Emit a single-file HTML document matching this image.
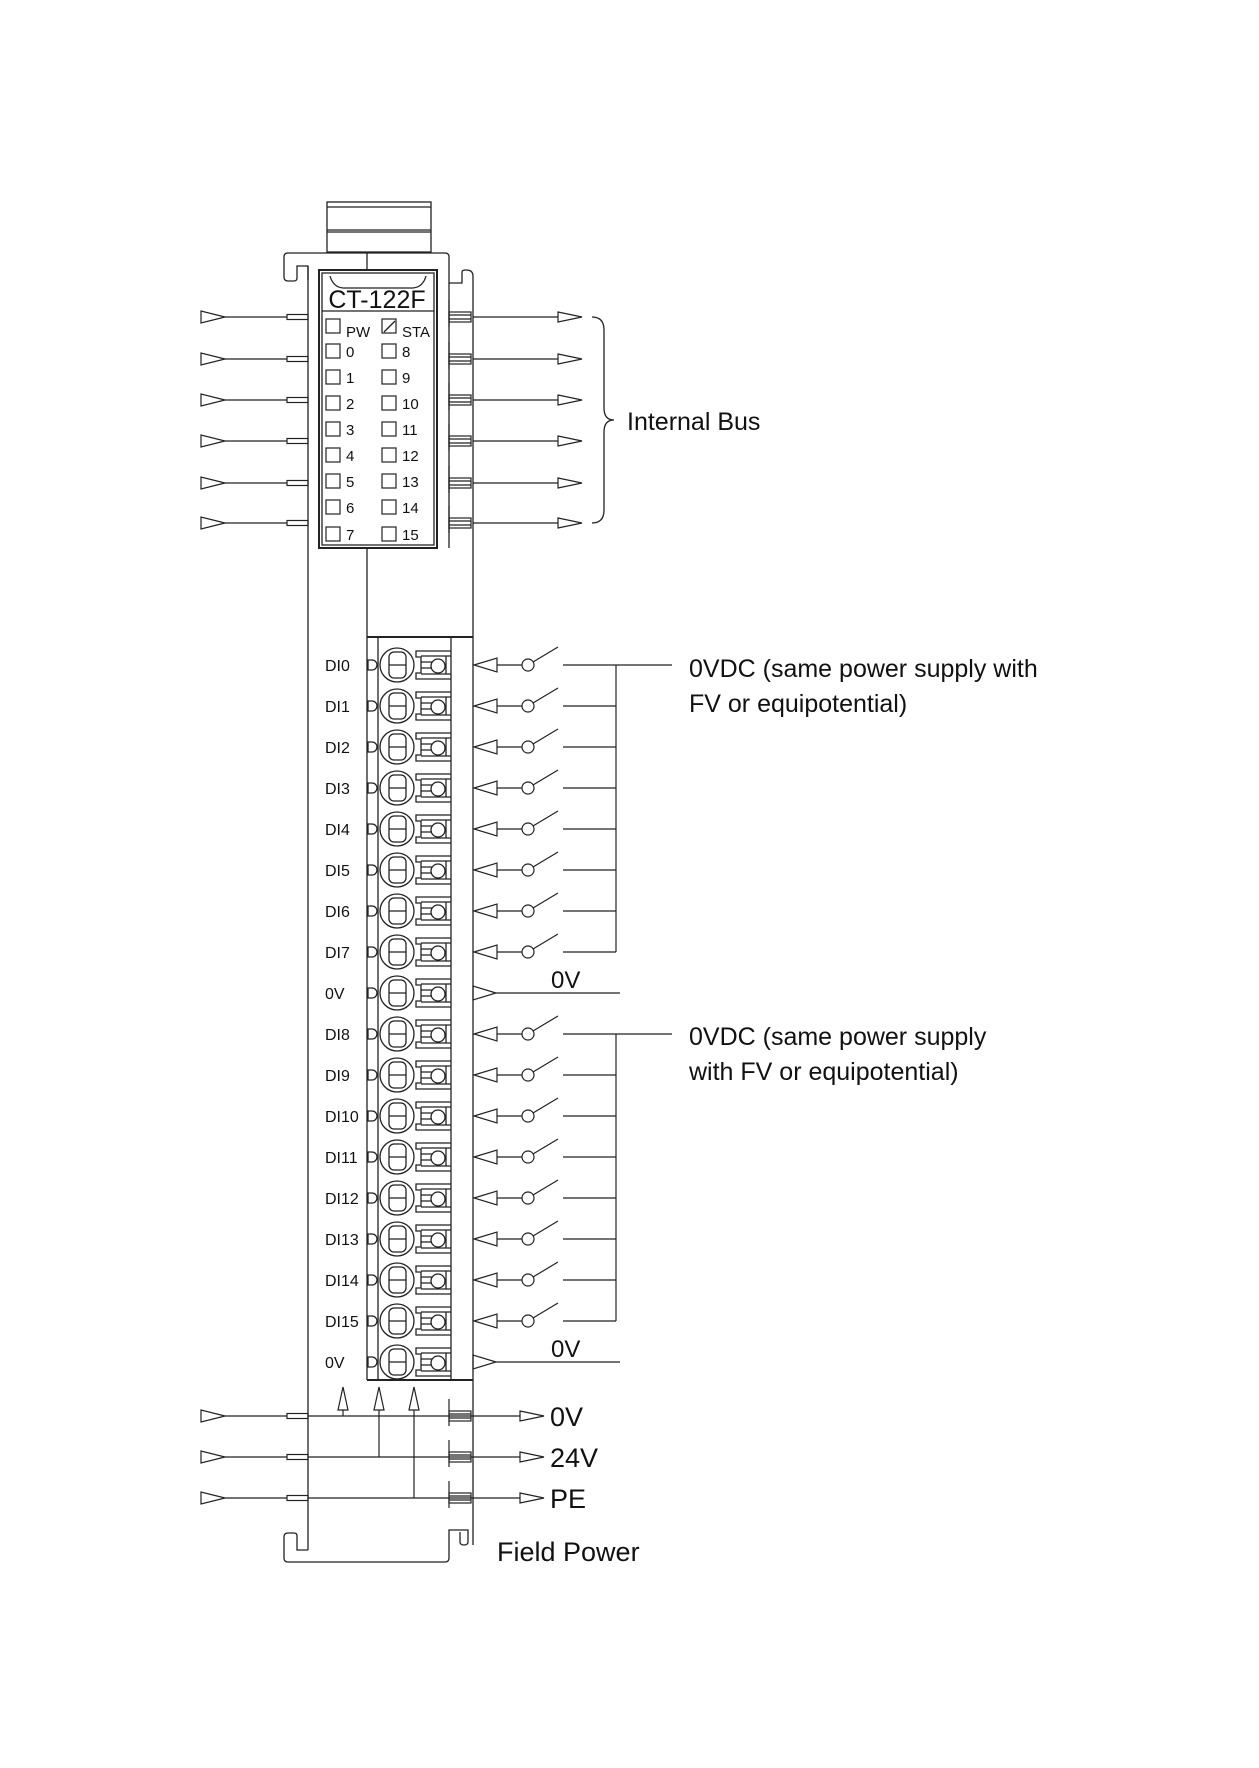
<!DOCTYPE html>
<html><head><meta charset="utf-8"><style>
html,body{margin:0;padding:0;background:#fff}
svg{display:block}
text{font-family:"Liberation Sans","DejaVu Sans",sans-serif;fill:#111}
</style></head><body>
<svg width="1259" height="1768" viewBox="0 0 1259 1768" xmlns="http://www.w3.org/2000/svg">
<defs>
<g id="term" fill="none" stroke="#222" stroke-width="1.3">
 <path d="M368,-5 H372 A5,5 0 0 1 372,5 H368 Z"/>
 <circle cx="397" cy="0" r="17"/>
 <rect x="389" y="-13" width="17" height="26" rx="5"/>
 <line x1="389" y1="0" x2="406" y2="0"/>
 <path d="M451,-14 H416 V-8 H421 V8 H416 V14 H451"/>
 <path d="M421,-9 H451 M421,9 H451 M421,-3 H432 M421,3 H432 M446,-9 V9"/>
 <circle cx="438" cy="1" r="7"/>
</g>
<g id="sw" fill="none" stroke="#222" stroke-width="1.2">
 <polygon points="474,0 497,-7 497,7"/>
 <line x1="497" y1="0" x2="522" y2="0"/>
 <circle cx="528" cy="0" r="6"/>
 <line x1="533" y1="-3" x2="558" y2="-18"/>
 <line x1="563" y1="0" x2="616" y2="0"/>
</g>
<g id="lin" fill="none" stroke="#222" stroke-width="1.2">
 <polygon points="225,0 201,-6 201,6"/>
 <line x1="225" y1="0" x2="287" y2="0"/>
 <rect x="287" y="-2.5" width="21" height="5"/>
</g>
<g id="rconn" fill="none" stroke="#222" stroke-width="1.2">
 <rect x="449" y="-5" width="22" height="10"/>
 <line x1="449" y1="-2" x2="471" y2="-2"/><line x1="449" y1="2" x2="471" y2="2"/>
 <line x1="449" y1="-17" x2="449" y2="10"/>
</g>
<g id="led" fill="none" stroke="#222" stroke-width="1.2">
 <rect x="0" y="0" width="14" height="14"/>
</g>
</defs>

<g fill="none" stroke="#222" stroke-width="1.3">
 <rect x="327" y="202" width="104" height="50"/>
 <line x1="327" y1="207" x2="431" y2="207"/>
 <line x1="327" y1="230" x2="431" y2="230"/>
 <line x1="327" y1="232" x2="431" y2="232"/>
 <path d="M308,280 V266 H297 V278 Q297,281 294,281 H288 Q284,281 284,277 V257 Q284,253 288,253 H445 Q449,253 449,257 V283 H462 V272 Q462,270 466,270 Q473,270 473,276 V1402"/>
 <line x1="308" y1="266" x2="308" y2="1550"/>
 <line x1="449" y1="283" x2="449" y2="548"/>
 <line x1="367" y1="253" x2="367" y2="270"/>
 <rect x="319" y="270" width="118" height="278" stroke-width="2"/>
 <rect x="322" y="273" width="112" height="272"/>
 <path d="M330,276 Q333,287 343,288 H413 Q423,287 426,276"/>
 <line x1="322" y1="311" x2="434" y2="311"/>
 <line x1="367" y1="548" x2="367" y2="1380"/>
 <line x1="367" y1="637" x2="473" y2="637" stroke-width="2"/>
 <line x1="367" y1="1380" x2="473" y2="1380" stroke-width="2"/>
 <line x1="378" y1="637" x2="378" y2="1380"/>
 <line x1="451" y1="637" x2="451" y2="1380"/>
 <path d="M308,1550 H297 V1536 Q297,1533 294,1533 H288 Q284,1533 284,1537 V1558 Q284,1562 288,1562 H445 Q449,1562 449,1558 V1530 H468 V1542 Q468,1545 464,1545 Q460,1545 460,1542 V1532"/>
 <line x1="473" y1="1402" x2="473" y2="1545"/>
 <path d="M592,317 Q604,317 604,330 V408 Q604,420 614,420 Q604,420 604,432 V510 Q604,523 592,523"/>
 <line x1="384" y1="332" x2="395" y2="321"/>
</g>

<use href="#led" x="326" y="319"/><use href="#led" x="382" y="319"/>
<use href="#led" x="326" y="344"/><use href="#led" x="382" y="344"/>
<use href="#led" x="326" y="370"/><use href="#led" x="382" y="370"/>
<use href="#led" x="326" y="396"/><use href="#led" x="382" y="396"/>
<use href="#led" x="326" y="422"/><use href="#led" x="382" y="422"/>
<use href="#led" x="326" y="448"/><use href="#led" x="382" y="448"/>
<use href="#led" x="326" y="474"/><use href="#led" x="382" y="474"/>
<use href="#led" x="326" y="500"/><use href="#led" x="382" y="500"/>
<use href="#led" x="326" y="527"/><use href="#led" x="382" y="527"/>
<text x="377" y="308" font-size="25" text-anchor="middle">CT-122F</text>
<g font-size="15">
<text x="346" y="337">PW</text><text x="402" y="337">STA</text>
<text x="346" y="357">0</text><text x="402" y="357">8</text>
<text x="346" y="383">1</text><text x="402" y="383">9</text>
<text x="346" y="409">2</text><text x="402" y="409">10</text>
<text x="346" y="435">3</text><text x="402" y="435">11</text>
<text x="346" y="461">4</text><text x="402" y="461">12</text>
<text x="346" y="487">5</text><text x="402" y="487">13</text>
<text x="346" y="513">6</text><text x="402" y="513">14</text>
<text x="346" y="540">7</text><text x="402" y="540">15</text>
</g>

<g fill="none" stroke="#222" stroke-width="1.2">
<use href="#lin" y="317"/><use href="#lin" y="359"/><use href="#lin" y="400"/>
<use href="#lin" y="441"/><use href="#lin" y="483"/><use href="#lin" y="523"/>
<use href="#rconn" y="317"/><use href="#rconn" y="359"/><use href="#rconn" y="400"/>
<use href="#rconn" y="441"/><use href="#rconn" y="483"/><use href="#rconn" y="523"/>
<path d="M473,317 H558 M473,359 H558 M473,400 H558 M473,441 H558 M473,483 H558 M473,523 H558"/>
<polygon points="558,312 582,317 558,322"/><polygon points="558,354 582,359 558,364"/>
<polygon points="558,395 582,400 558,405"/><polygon points="558,436 582,441 558,446"/>
<polygon points="558,478 582,483 558,488"/><polygon points="558,518 582,523 558,528"/>
</g>
<text x="627" y="430" font-size="25">Internal Bus</text>

<use href="#term" y="665"/><use href="#term" y="706"/><use href="#term" y="747"/>
<use href="#term" y="788"/><use href="#term" y="829"/><use href="#term" y="870"/>
<use href="#term" y="911"/><use href="#term" y="952"/><use href="#term" y="993"/>
<use href="#term" y="1034"/><use href="#term" y="1075"/><use href="#term" y="1116"/>
<use href="#term" y="1157"/><use href="#term" y="1198"/><use href="#term" y="1239"/>
<use href="#term" y="1280"/><use href="#term" y="1321"/><use href="#term" y="1362"/>
<g font-size="16">
<text x="325" y="671">DI0</text><text x="325" y="712">DI1</text><text x="325" y="753">DI2</text>
<text x="325" y="794">DI3</text><text x="325" y="835">DI4</text><text x="325" y="876">DI5</text>
<text x="325" y="917">DI6</text><text x="325" y="958">DI7</text><text x="325" y="999">0V</text>
<text x="325" y="1040">DI8</text><text x="325" y="1081">DI9</text><text x="325" y="1122">DI10</text>
<text x="325" y="1163">DI11</text><text x="325" y="1204">DI12</text><text x="325" y="1245">DI13</text>
<text x="325" y="1286">DI14</text><text x="325" y="1327">DI15</text><text x="325" y="1368">0V</text>
</g>

<use href="#sw" y="665"/><use href="#sw" y="706"/><use href="#sw" y="747"/>
<use href="#sw" y="788"/><use href="#sw" y="829"/><use href="#sw" y="870"/>
<use href="#sw" y="911"/><use href="#sw" y="952"/>
<use href="#sw" y="1034"/><use href="#sw" y="1075"/><use href="#sw" y="1116"/>
<use href="#sw" y="1157"/><use href="#sw" y="1198"/><use href="#sw" y="1239"/>
<use href="#sw" y="1280"/><use href="#sw" y="1321"/>
<g fill="none" stroke="#222" stroke-width="1.2">
<path d="M616,665 V952 M616,665 H672 M616,1034 V1321 M616,1034 H672"/>
<polygon points="496,993 473,986 473,1000"/><line x1="496" y1="993" x2="620" y2="993"/>
<polygon points="496,1362 473,1355 473,1369"/><line x1="496" y1="1362" x2="620" y2="1362"/>
</g>
<g font-size="24">
<text x="551" y="988">0V</text>
<text x="551" y="1357">0V</text>
</g>
<g font-size="25">
<text x="689" y="677">0VDC (same power supply with</text>
<text x="689" y="712">FV or equipotential)</text>
<text x="689" y="1045">0VDC (same power supply</text>
<text x="689" y="1080">with FV or equipotential)</text>
</g>

<g fill="none" stroke="#222" stroke-width="1.2">
<use href="#lin" y="1416"/><use href="#lin" y="1457"/><use href="#lin" y="1498"/>
<use href="#rconn" y="1416"/><use href="#rconn" y="1457"/><use href="#rconn" y="1498"/>
<path d="M308,1416 H520 M308,1457 H520 M308,1498 H520"/>
<polygon points="520,1411 544,1416 520,1421"/><polygon points="520,1452 544,1457 520,1462"/>
<polygon points="520,1493 544,1498 520,1503"/>
<polygon points="343,1387 338,1410 348,1410"/><line x1="343" y1="1410" x2="343" y2="1416"/>
<polygon points="379,1387 374,1410 384,1410"/><line x1="379" y1="1410" x2="379" y2="1457"/>
<polygon points="414,1387 409,1410 419,1410"/><line x1="414" y1="1410" x2="414" y2="1498"/>
</g>
<g font-size="27">
<text x="550" y="1426">0V</text>
<text x="550" y="1467">24V</text>
<text x="550" y="1508">PE</text>
<text x="497" y="1561">Field Power</text>
</g>
</svg>
</body></html>
